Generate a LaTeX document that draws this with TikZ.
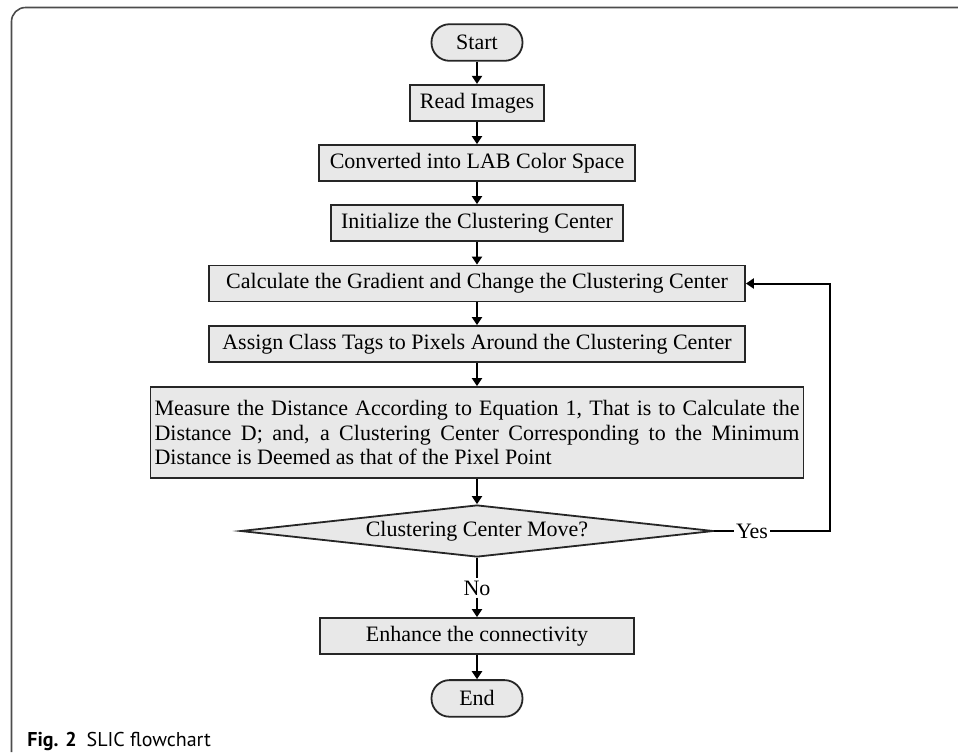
\documentclass[tikz,border=0pt]{standalone}
\usepackage{fontspec}
\setmainfont{Liberation Serif}
\newfontfamily\capfont{PT Sans}
\usetikzlibrary{shapes.geometric,arrows.meta}

\begin{document}
\begin{tikzpicture}[x=0.5pt,y=-0.5pt,
    font=\fontsize{11}{12.4}\selectfont,
    box/.style={draw=black!85,fill=black!9,line width=0.9pt,inner sep=2pt},
    proc/.style={box,minimum height=18pt},
    term/.style={box,rounded corners=9pt,minimum width=45.5pt,minimum height=18.3pt},
    decide/.style={box,diamond,aspect=9.1,minimum width=236.5pt,minimum height=26pt,inner sep=0pt},
    flow/.style={-{Triangle[length=4pt,width=5pt]},line width=1pt},
    lbl/.style={inner sep=1pt}]
  \useasboundingbox (0,0) rectangle (958,752);
  % page frame
  \draw[black!70,line width=0.8pt,rounded corners=7pt] (958,7.5) -- (11.5,7.5) -- (11.5,752);
  % steps
  \node[term] (start) at (477,42.5) {Start};
  \node[proc,minimum width=67pt] (read) at (477,102.8) {Read Images};
  \node[proc,minimum width=158pt] (lab) at (477,163) {Converted into LAB Color Space};
  \node[proc,minimum width=146pt] (init) at (477,223) {Initialize the Clustering Center};
  \node[proc,minimum width=268pt] (grad) at (477,283.5)
    {Calculate the Gradient and Change the Clustering Center};
  \node[proc,minimum width=268pt] (assign) at (477,344)
    {Assign Class Tags to Pixels Around the Clustering Center};
  \node[box,text width=322.5pt,align=justify,minimum height=45.5pt] (measure) at (477,432.5)
    {Measure the Distance According to Equation 1, That is to Calculate the\linebreak
     Distance D; and, a Clustering Center Corresponding to the Minimum\linebreak
     Distance is Deemed as that of the Pixel Point};
  \node[decide] (move) at (477,531) {Clustering Center Move?};
  \node[lbl] (yes) at (752,531) {Yes};
  \node[lbl] (no) at (477,588) {No};
  \node[proc,minimum width=157pt] (enh) at (477,636) {Enhance the connectivity};
  \node[term] (end) at (477,698.4) {End};
  \coordinate (back) at (830,531);
  % connectors
  \foreach \a/\b in {start/read,read/lab,lab/init,init/grad,grad/assign,assign/measure,measure/move,no/enh,enh/end}
    \draw[flow] (\a.south) -- (\b.north);
  \draw[line width=1pt] (move.south) -- (no.north);
  \draw[line width=1pt] (move.east) -- (yes.west);
  \draw[flow] (yes.east) -- (back) |- (grad.east);
  % caption
  \node[anchor=west,inner sep=0pt,font=\capfont\fontsize{10}{12}\selectfont] (cap) at (27,741)
    {\textbf{Fig. 2}\enspace SLIC flowchart};
\end{tikzpicture}
\end{document}
